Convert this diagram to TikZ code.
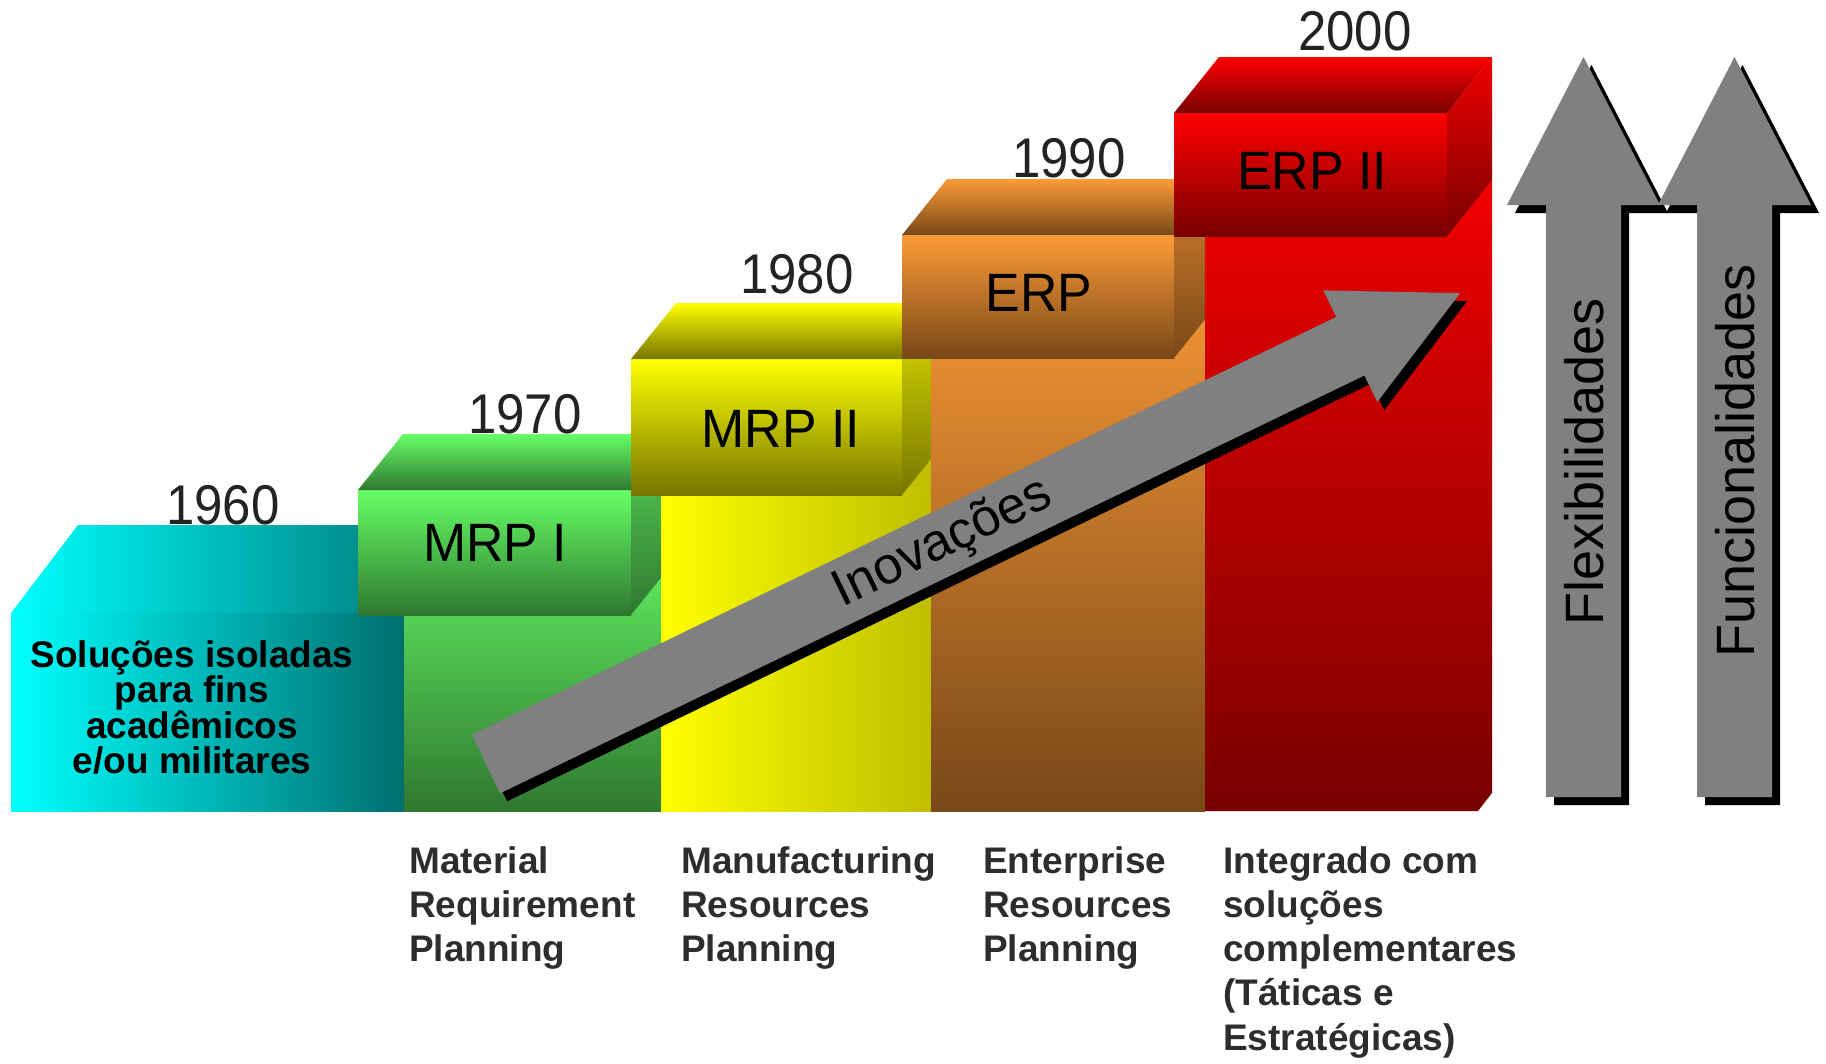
\documentclass[tikz,border=0pt]{standalone}
\usepackage{fontspec}
\setmainfont{Liberation Sans}
\newfontfamily\yearfont[FakeStretch=0.91]{Liberation Sans}
\newfontfamily\boxfont[FakeStretch=0.96]{Liberation Sans}
\definecolor{cyanL}{RGB}{0,255,255}
\definecolor{cyanD}{RGB}{0,110,110}
\definecolor{cyanT}{RGB}{0,128,128}
\definecolor{grL}{RGB}{102,255,102}
\definecolor{grD}{RGB}{48,120,48}
\definecolor{grP}{RGB}{95,235,95}
\definecolor{grS}{RGB}{88,210,88}
\definecolor{yeL}{RGB}{255,255,0}
\definecolor{yeD}{RGB}{118,118,0}
\definecolor{yeR}{RGB}{190,190,0}
\definecolor{yeS}{RGB}{225,225,0}
\definecolor{orL}{RGB}{252,155,55}
\definecolor{orD}{RGB}{120,72,24}
\definecolor{orP}{RGB}{242,148,52}
\definecolor{orS}{RGB}{215,128,45}
\definecolor{reL}{RGB}{255,0,0}
\definecolor{reD}{RGB}{120,0,0}
\definecolor{reP}{RGB}{240,0,0}
\definecolor{reS}{RGB}{238,0,0}
\definecolor{arrowgray}{RGB}{128,128,128}
\definecolor{yeartext}{RGB}{35,35,35}
\definecolor{labeltext}{RGB}{45,45,45}
% box: L R T B frontTop frontBottom sideTop sideBottom
\newcommand\stagebox[8]{%
  \shade[top color=#5,bottom color=#6] (#1,#4) rectangle (#2,#3);
  \shade[top color=#5,bottom color=#6] (#1,#3) -- ++(45,-56) -- ++({#2-#1},0) -- (#2,#3) -- cycle;
  \shade[top color=#7,bottom color=#8] (#2,#3) -- ++(45,-56) -- ++(0,{#4-#3}) -- (#2,#4) -- cycle;
}
\begin{document}
\begin{tikzpicture}[x=1pt,y=-1pt,
  yearlabel/.style={font=\yearfont\fontsize{56}{60}\selectfont, text=yeartext, anchor=base, inner sep=0pt},
  boxlabel/.style={font=\boxfont\fontsize{54}{60}\selectfont, text=black, anchor=base, inner sep=0pt},
  botlabel/.style={font=\bfseries\fontsize{37}{44.3}\selectfont, text=labeltext, anchor=base west, align=left, inner sep=0pt},
  uplabel/.style={font=\fontsize{54}{60}\selectfont, text=black, anchor=base, rotate=90, inner sep=0pt},
  grayarrow/.style={fill=arrowgray},
  arrowshadow/.style={fill=black}]
\useasboundingbox (0,0) rectangle (1826,1063);

% 1960 - cyan block
\shade[left color=cyanL,right color=cyanT] (11,613) -- (78,525) -- (404,525) -- (404,613) -- cycle;
\shade[left color=cyanL,right color=cyanD] (11,613) rectangle (404,811);

% 1970 - green
\shade[top color=grP,bottom color=grD] (404,559) rectangle (661,811);
\stagebox{358}{631}{490}{615}{grL}{grD}{grS}{grD}

% 1980 - yellow
\shade[left color=yeL,right color=yeR] (661,439) rectangle (931,811);
\stagebox{631}{902}{359}{495}{yeL}{yeD}{yeS}{yeD}

% 1990 - orange
\shade[top color=orP,bottom color=orD] (931,302) rectangle (1205,811);
\stagebox{902}{1174}{235}{358}{orL}{orD}{orS}{orD}

% 2000 - red
\shade[top color=reP,bottom color=reD] (1205,180) -- (1492,180) -- (1492,793) -- (1478,811) -- (1205,811) -- cycle;
\stagebox{1174}{1447}{113}{236}{reL}{reD}{reS}{reD}

% diagonal arrow
\begin{scope}[shift={(7,8)}]
\fill[arrowshadow] (471.9,734.7) -- (1336.2,316.9) -- (1323.3,290.4) -- (1460.1,293.1) -- (1377.3,402.0) -- (1364.4,375.5) -- (500.1,793.3) -- cycle;
\end{scope}
\fill[grayarrow] (471.9,734.7) -- (1336.2,316.9) -- (1323.3,290.4) -- (1460.1,293.1) -- (1377.3,402.0) -- (1364.4,375.5) -- (500.1,793.3) -- cycle;
\node[font=\fontsize{52}{60}\selectfont, rotate=25.8, inner sep=0pt] (inov) at (943,544) {Inovações};

% vertical arrows
\begin{scope}[shift={(8,8)}]
\fill[arrowshadow] (1546,797) -- (1546,205) -- (1507,205) -- (1583.5,57) -- (1660,205) -- (1621,205) -- (1621,797) -- cycle;
\end{scope}
\fill[grayarrow] (1546,797) -- (1546,205) -- (1507,205) -- (1583.5,57) -- (1660,205) -- (1621,205) -- (1621,797) -- cycle;
\begin{scope}[shift={(8,8)}]
\fill[arrowshadow] (1697,797) -- (1697,205) -- (1658,205) -- (1734.5,57) -- (1811,205) -- (1772,205) -- (1772,797) -- cycle;
\end{scope}
\fill[grayarrow] (1697,797) -- (1697,205) -- (1658,205) -- (1734.5,57) -- (1811,205) -- (1772,205) -- (1772,797) -- cycle;
\node[uplabel] (flex) at (1603,462) {Flexibilidades};
\node[uplabel] (func) at (1754,461) {Funcionalidades};

% years
\node[yearlabel] (y1960) at (223,524) {1960};
\node[yearlabel] (y1970) at (525,433) {1970};
\node[yearlabel] (y1980) at (797,293) {1980};
\node[yearlabel] (y1990) at (1069,177) {1990};
\node[yearlabel] (y2000) at (1355,50) {2000};

% box labels
\node[boxlabel] (mrp1) at (495,561) {MRP I};
\node[boxlabel] (mrp2) at (781,447) {MRP II};
\node[boxlabel] (erp) at (1039,311) {ERP};
\node[boxlabel] (erp2) at (1312,189) {ERP II};

% cyan text (base anchor = last line)
\node[font=\bfseries\fontsize{37}{35.5}\selectfont, align=center, anchor=base, inner sep=0pt] (isol) at (192,773.5)
  {Soluções isoladas\\para fins\\acadêmicos\\e/ou militares};

% bottom descriptions (base anchor = last line)
\node[botlabel] (d1) at (409,961.6) {Material\\Requirement\\Planning};
\node[botlabel] (d2) at (681,961.6) {Manufacturing\\Resources\\Planning};
\node[botlabel] (d3) at (983,961.6) {Enterprise\\Resources\\Planning};
\node[botlabel] (d4) at (1223,1050.2) {Integrado com\\soluções\\complementares\\(Táticas e\\Estratégicas)};
\end{tikzpicture}
\end{document}
